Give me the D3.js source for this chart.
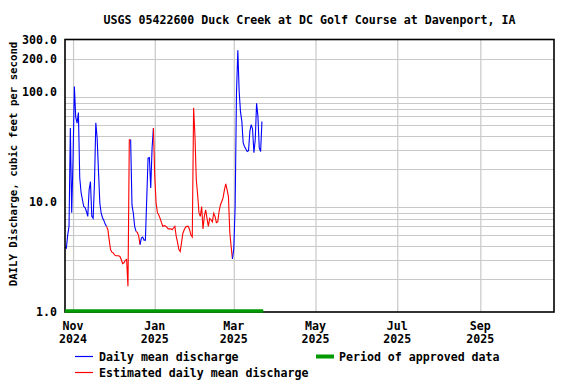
<!DOCTYPE html>
<html>
<head>
<meta charset="utf-8">
<script src="https://cdn.jsdelivr.net/npm/d3@7"></script>
<style>
  html, body { margin: 0; padding: 0; background: #fff; }
  svg { display: block; }
  text { font-family: "DejaVu Sans Mono", "Liberation Mono", monospace; font-weight: bold; font-size: 11.6px; fill: #000; }
</style>
</head>
<body>
<svg id="chart" width="576" height="384"></svg>
<script>
// ---------- data ----------
const title = "USGS 05422600 Duck Creek at DC Golf Course at Davenport, IA";
const yLabel = "DAILY Discharge, cubic feet per second";
const startDate = "2024-10-26";           // first daily value
const discharge = [
  3.9, 3.8, 5.0, 6.0, 47, 8.0, 24.7, 112, 59, 52,
  65, 16.6, 12.2, 10.5, 9.1, 8.9, 8.2, 7.4, 12.9, 15.3,
  7.4, 7.1, 14.9, 52.5, 38, 19, 9.8, 7.9, 7.2, 6.8,
  6.3, 6.0, 5.6, 4.5, 3.7, 3.5, 3.45, 3.3, 3.25, 3.25,
  3.25, 3.2, 3.0, 2.75, 2.8, 2.95, 3.0, 1.71, 36.8, 36.8,
  9.4, 7.9, 6.0, 5.4, 5.3, 4.9, 4.1, 4.7, 4.8, 4.5,
  4.5, 10.6, 25, 25.3, 13.4, 31, 47, 17.1, 9.8, 8.0,
  7.6, 7.1, 6.5, 6.0, 6.1, 6.05, 5.9, 5.7, 5.7, 5.7,
  5.6, 5.8, 6.0, 4.9, 4.3, 3.7, 3.55, 4.3, 5.2, 5.6,
  5.9, 6.0, 6.0, 5.6, 5.0, 4.8, 71.7, 40, 16, 11.6,
  8.0, 7.4, 9.1, 5.7, 7.4, 8.5, 7.1, 6.0, 7.1, 6.9,
  6.6, 7.9, 7.4, 6.5, 6.6, 8.2, 9.4, 10.1, 10.9, 12.9,
  14.6, 12.9, 11.2, 5.3, 3.95, 3.03, 3.8, 9.2, 98, 240,
  101, 66, 54, 34.4, 32, 30.3, 28.8, 29.3, 44, 50.5,
  46, 28, 36.8, 79, 60, 31, 28.8, 54
];
const estimatedRanges = [
  ["2024-11-27", "2024-12-14"],
  ["2024-12-19", "2024-12-21"],
  ["2025-01-01", "2025-02-28"]
];
const approvedPeriod = ["2024-10-26", "2025-03-23"];
const xDomain = ["2024-10-26", "2025-10-26"];
const xTickDates = ["2024-11-01", "2025-01-01", "2025-03-01", "2025-05-01", "2025-07-01", "2025-09-01"];
const xTickMonths = ["Nov", "Jan", "Mar", "May", "Jul", "Sep"];
const xTickYears = ["2024", "2025", "2025", "2025", "2025", "2025"];
const yDomain = [1, 300];
const yTickValues = [1, 10, 100, 200, 300];
const yGridValues = [2, 3, 4, 5, 6, 7, 8, 9, 20, 30, 40, 50, 60, 70, 80, 90, 200];
const legendItems = [
  { label: "Daily mean discharge", color: "#0000ff", kind: "line" },
  { label: "Estimated daily mean discharge", color: "#ff0000", kind: "line" },
  { label: "Period of approved data", color: "#009900", kind: "bar" }
];

// ---------- layout ----------
const parse = d3.utcParse("%Y-%m-%d");
const L = 65, R = 554, T = 39.5, B = 312;
const svg = d3.select("#chart");

const x = d3.scaleUtc().domain(xDomain.map(parse)).range([L, R]);
const y = d3.scaleLog().domain(yDomain).range([B, T]);

const start = parse(startDate);
const est = estimatedRanges.map(r => r.map(parse));
const points = discharge.map((v, i) => {
  const date = d3.utcDay.offset(start, i);
  const isEst = est.some(([a, b]) => date >= a && date <= b);
  return { date, v, isEst };
});

// grid: horizontal
svg.append("g")
  .selectAll("line")
  .data(yGridValues)
  .join("line")
  .attr("x1", L).attr("x2", R)
  .attr("y1", d => Math.round(y(d)) + 0.5)
  .attr("y2", d => Math.round(y(d)) + 0.5)
  .attr("stroke", "#c8c8c8").attr("stroke-width", 1);

// grid + labels: vertical (x axis)
const xAxis = d3.axisBottom(x)
  .tickValues(xTickDates.map(parse))
  .tickSize(-(B - T))
  .tickFormat("");
const gx = svg.append("g").attr("transform", `translate(0,${B})`).call(xAxis);
gx.select(".domain").remove();
gx.selectAll(".tick line").attr("stroke", "#c8c8c8").attr("stroke-width", 1.2);

const xl = svg.append("g").selectAll("text")
  .data(xTickDates.map((d, i) => ({ d: parse(d), m: xTickMonths[i], yr: xTickYears[i] })))
  .join("text")
  .attr("text-anchor", "middle")
  .attr("x", d => x(d.d));
xl.append("tspan").attr("x", d => x(d.d)).attr("y", 330).text(d => d.m);
xl.append("tspan").attr("x", d => x(d.d)).attr("y", 343).text(d => d.yr);

// y axis labels
const yAxis = d3.axisLeft(y)
  .tickValues(yTickValues)
  .tickSize(0)
  .tickPadding(8)
  .tickFormat(d3.format(".1f"));
const gy = svg.append("g").attr("transform", `translate(${L},0)`).call(yAxis);
gy.select(".domain").remove();
gy.selectAll("text")
  .attr("font-family", null).attr("font-size", null)
  .style("font-family", "'DejaVu Sans Mono', monospace")
  .style("font-weight", "bold").style("font-size", "11.6px").attr("fill", "#000");

// data lines, split by qualifier
const line = d3.line().x(d => x(d.date)).y(d => y(d.v));
const runs = [];
let cur = null;
points.forEach((p, i) => {
  if (!cur || cur.isEst !== p.isEst) {
    cur = { isEst: p.isEst, pts: i > 0 ? [points[i - 1]] : [] };
    runs.push(cur);
  }
  cur.pts.push(p);
});
svg.append("g").selectAll("path")
  .data(runs)
  .join("path")
  .attr("d", d => line(d.pts))
  .attr("fill", "none")
  .attr("stroke", d => d.isEst ? legendItems[1].color : legendItems[0].color)
  .attr("stroke-width", 1.1)
  .attr("stroke-linejoin", "miter");

// plot border
svg.append("rect")
  .attr("x", L).attr("y", T).attr("width", R - L).attr("height", B - T)
  .attr("fill", "none").attr("stroke", "#000").attr("stroke-width", 1.6);

// approved period bar
svg.append("line")
  .attr("x1", x(parse(approvedPeriod[0]))).attr("x2", x(parse(approvedPeriod[1])))
  .attr("y1", B - 1).attr("y2", B - 1)
  .attr("stroke", legendItems[2].color).attr("stroke-width", 3.6);

// title
svg.append("text")
  .attr("x", (L + R) / 2).attr("y", 24)
  .attr("text-anchor", "middle")
  .text(title);

// y label
svg.append("text")
  .attr("transform", `translate(16.5,${164}) rotate(-90)`)
  .attr("text-anchor", "middle")
  .style("font-size", "10.7px")
  .text(yLabel);

// legend
const legendPos = [
  { x1: 75, x2: 93, y: 356.5, tx: 99, ty: 361 },
  { x1: 75, x2: 93, y: 372.5, tx: 99, ty: 377 },
  { x1: 316, x2: 334, y: 356.5, tx: 339, ty: 361 }
];
const lg = svg.append("g").selectAll("g").data(legendItems).join("g");
lg.append("line")
  .attr("x1", (d, i) => legendPos[i].x1).attr("x2", (d, i) => legendPos[i].x2)
  .attr("y1", (d, i) => legendPos[i].y).attr("y2", (d, i) => legendPos[i].y)
  .attr("stroke", d => d.color)
  .attr("stroke-width", d => d.kind === "bar" ? 4 : 1.2);
lg.append("text")
  .attr("x", (d, i) => legendPos[i].tx).attr("y", (d, i) => legendPos[i].ty)
  .text(d => d.label);
</script>
</body>
</html>
